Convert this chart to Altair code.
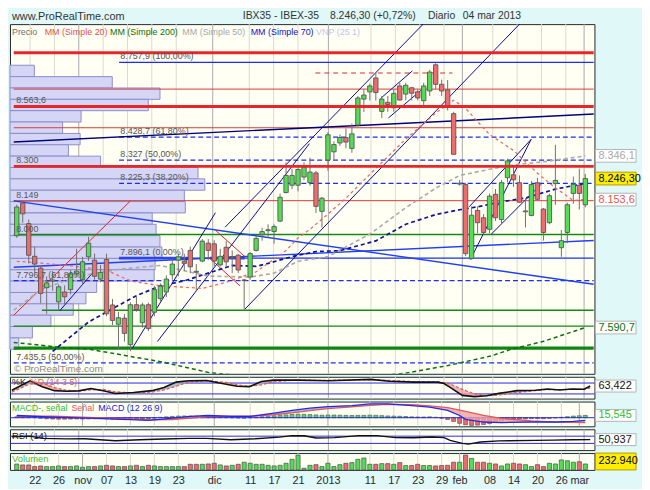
import altair as alt
import pandas as pd

FONT = "Liberation Sans"

# ------------------------------------------------------------------
# DATA  (trading-day index: 0 = 22 oct 2012 ... 92 = 04 mar 2013)
# ------------------------------------------------------------------
day_index = list(range(-3, 93))

opens = [
    7995, 8138, 8048, 7904, 7852, 7766, 7795, 7704, 7747, 7758, 7827, 7801, 7902,
    7887, 7804, 7890, 7690, 7605, 7632, 7515, 7691, 7612, 7691,
    7658, 7718, 7747, 7823, 7887, 7883, 7930, 7838, 7883, 7962,
    7959, 7866, 7944, 7900, 7909, 7798, 7813, 7930, 7999, 8017,
    8013, 8059, 8185, 8217, 8217, 8253, 8228, 8271, 8102, 8328,
    8364, 8403, 8427, 8379, 8482, 8596, 8628, 8689, 8542, 8582,
    8558, 8654, 8618, 8646, 8628, 8589, 8632, 8747, 8661, 8637,
    8532, 8222, 8220, 7894, 8106, 8074, 8023, 8177, 8066, 8250,
    8263, 8228, 8100, 8084, 8228, 8112, 8052, 8224, 7942, 8009,
    8181, 8217, 8131,
]
highs = [
    8131, 8145, 8066, 7947, 7866, 7816, 7839, 7780, 7776, 7844, 7937, 7902, 7990,
    7916, 7866, 7916, 7716, 7660, 7650, 7701, 7730, 7700, 7700,
    7774, 7785, 7820, 7890, 7915, 7915, 7947, 7870, 7980, 7980,
    7975, 7937, 7971, 7930, 7915, 7805, 7923, 7995, 8030, 8045,
    8045, 8180, 8317, 8290, 8300, 8317, 8338, 8280, 8165, 8450,
    8410, 8440, 8467, 8489, 8610, 8639, 8665, 8711, 8610, 8610,
    8640, 8668, 8668, 8650, 8640, 8668, 8725, 8754, 8682, 8680,
    8540, 8240, 8227, 8124, 8124, 8090, 8180, 8200, 8240, 8334,
    8300, 8260, 8160, 8235, 8250, 8117, 8180, 8395, 8020, 8140,
    8255, 8290, 8267,
]
lows = [
    7985, 8052, 7873, 7830, 7698, 7651, 7753, 7667, 7694, 7737, 7820, 7780, 7884,
    7801, 7790, 7640, 7601, 7495, 7529, 7486, 7660, 7590, 7575,
    7640, 7705, 7725, 7801, 7817, 7840, 7830, 7751, 7878, 7887,
    7859, 7860, 7860, 7830, 7830, 7672, 7801, 7925, 7973, 7990,
    7960, 8055, 8180, 8200, 8190, 8240, 8215, 8095, 8031, 8281,
    8324, 8390, 8380, 8360, 8475, 8539, 8590, 8589, 8513, 8540,
    8540, 8590, 8590, 8590, 8590, 8565, 8610, 8640, 8610, 8546,
    8353, 8215, 7905, 7890, 8005, 8000, 8005, 8060, 8050, 8230,
    8210, 8140, 8031, 8080, 8150, 7973, 8045, 8131, 7902, 7962,
    8135, 8110, 8120,
]
closes = [
    8121, 8091, 7909, 7870, 7741, 7787, 7800, 7770, 7726, 7827, 7839, 7880, 7962,
    7816, 7833, 7651, 7622, 7634, 7565, 7691, 7670, 7690, 7586,
    7758, 7773, 7804, 7870, 7902, 7873, 7858, 7834, 7971, 7930,
    7883, 7904, 7880, 7903, 7844, 7800, 7916, 7983, 8013, 8021,
    8035, 8164, 8260, 8260, 8286, 8296, 8275, 8124, 8160, 8439,
    8396, 8427, 8407, 8443, 8601, 8614, 8654, 8625, 8596, 8572,
    8621, 8592, 8657, 8622, 8601, 8654, 8715, 8661, 8632, 8561,
    8353, 8226, 7916, 8085, 8052, 8009, 8169, 8074, 8228, 8324,
    8241, 8142, 8104, 8220, 8155, 8009, 8171, 8238, 7973, 8131,
    8221, 8181, 8246.3,
]
volumes = [
    230000, 195000, 195000, 130000, 155000, 130000, 130000, 155000, 130000, 130000, 155000, 105000, 130000,
    130000, 155000, 180000, 155000, 130000, 130000, 155000, 180000, 130000, 180000,
    155000, 130000, 130000, 130000, 130000, 130000, 220000, 220000, 220000, 233000,
    260000, 195000, 155000, 180000, 220000, 300000, 260000, 220000, 220000, 180000,
    155000, 180000, 260000, 415000, 580000, 65000, 180000, 205000, 130000, 260000,
    130000, 205000, 260000, 285000, 415000, 465000, 220000, 220000, 245000, 245000,
    220000, 285000, 170000, 170000, 220000, 170000, 170000, 155000, 170000, 180000,
    300000, 300000, 580000, 450000, 300000, 300000, 260000, 233000, 155000, 233000,
    260000, 233000, 205000, 130000, 205000, 130000, 260000, 233000, 390000, 360000,
    300000, 320000, 232940,
]
macd_hist = [
    6, 7, 5, 3,
    -4, -7, -9, -10, -10, -9, -8, -9, -8, -7, -6, -8, -10, -12, -13, -12, -10, -8, -6, -3,
    3, 6, 9, 11, 12, 11, 10, 9, 7, 5, 3, 2, 0, -2, -3,
    0, 4, 7, 10, 13, 16, 19, 22, 24, 23, 21, 19, 17, 18, 18, 17, 16, 15, 16, 16, 17, 16,
    14, 12, 11, 10, 8, 6, 5, 5, 6, 3,
    -4, -12, -25, -38, -48, -52, -50, -46, -40, -32, -24, -15, -10, -9, -8, -6, -6, -7,
    -4, -1, 3, 7, 11, 13, 15.5,
]

# moving averages (sampled along the curves)
ma20_x = [-3, 0, 5, 10, 12, 16, 21, 25, 28, 32, 37, 40, 42, 44, 46, 49, 52, 56, 62, 67, 70, 72, 76, 80, 84, 87, 90, 92]
ma20_v = [7882, 7877, 7865, 7850, 7843, 7796, 7774, 7768, 7763, 7790, 7836, 7892, 7930, 7985, 8023, 8090, 8160,
          8265, 8420, 8535, 8591, 8555, 8440, 8370, 8270, 8205, 8150, 8154]
ma50_x = [-3.5, 1, 7, 14, 21, 29, 36, 40, 44, 49, 56, 62, 67, 71, 79, 85, 92]
ma50_v = [7667, 7757, 7815, 7847, 7864, 7817, 7813, 7830, 7882, 7903, 8002, 8118, 8204, 8260, 8303, 8320, 8346.1]
ma70_x = [3, 9, 14, 17, 21, 25, 29, 33, 37, 39, 43, 47, 51, 57, 62, 67, 71, 74, 78, 82, 87, 92]
ma70_v = [7486, 7615, 7688, 7731, 7774, 7796, 7830, 7864, 7860, 7873, 7903, 7925, 7929, 7972, 8045, 8088, 8109,
          8122, 8144, 8161, 8200, 8225]
ma200_x = [-3.5, 4.6, 9.2, 21.3, 29.2, 45, 61.5, 68.8, 76.2, 79.6, 84.9, 92]
ma200_v = [7525, 7503, 7495, 7439, 7392, 7350, 7388, 7422, 7465, 7495, 7529, 7590.7]

# volume-by-price profile (VNP 25 1): bins of 50 points, relative volume (% of max)
vp_bin_top = [8745 - 50 * k for k in range(25)]
vp_rel = [12.5, 52.5, 77, 71, 36.5, 27, 36, 30, 46.5, 96.5, 100, 89.5, 90, 73, 75, 77, 78, 74.5, 74, 44.5,
          39, 32.5, 21, 11.5, 4.5]

# stochastic %K %D (14 3 5)
sto_x = [-3, 0, 2, 4, 6, 8, 10, 12, 14, 17, 20, 22, 24, 26, 29, 32, 34, 36, 38, 40, 44, 49, 56, 59, 63, 67,
         68, 69, 71, 73, 75, 77, 80, 83, 85, 87, 89, 91, 92]
sto_k = [40, 92, 60, 38, 35, 37, 50, 38, 22, 28, 38, 55, 85, 93, 94, 75, 62, 60, 88, 96, 96, 93, 100, 90, 85,
         85, 77, 56, 12, 5, 10, 23, 38, 40, 47, 42, 47, 46, 63.422]
sto_d = [30, 75, 80, 55, 40, 36, 42, 45, 32, 25, 30, 42, 62, 85, 93, 85, 70, 62, 70, 88, 96, 95, 98, 95, 88,
         85, 83, 75, 45, 20, 10, 14, 28, 38, 44, 44, 45, 46, 52]

# MACD (12 26 9)
macd_x = [-3, 3, 9, 16, 19, 23, 26, 29, 33, 36, 40, 43, 46, 49, 53, 56, 59, 63, 66, 69, 71, 72, 75, 78, 83,
          87, 90, 92]
macd_v = [15, 4, -3, -13, -18, -3, 9, 15, 9, 9, 31, 49, 64, 75, 82, 93, 93, 82, 71, 49, 15, -11, -29, -33,
          -29, -29, -25, -18]
signal_v = [10, 10, 2, -8, -14, -12, -2, 8, 11, 10, 20, 32, 48, 62, 73, 83, 90, 88, 80, 68, 52, 42, 15, -5,
            -22, -30, -32, -33]

# RSI (14)
rsi_x = [-3, 0, 2, 6, 9, 14, 18, 22, 26, 29, 33, 37, 41, 43, 45, 47, 50, 54, 57, 60, 63, 66, 68, 69, 71,
         72, 74, 77, 83, 86, 89, 92]
rsi_v = [66, 70, 58, 55, 56, 45, 50, 54, 58, 58, 50, 56, 65, 73, 72, 60, 62, 73, 73, 62, 61, 65, 62, 47, 30,
         26, 38, 44, 47, 48, 50, 50.937]

# horizontal levels
thick_red_levels = [8800, 8563.6, 8300]
thin_red_levels = [8640, 8470, 8149]
green_levels = [8000, 7597]
green_partial_level = [7667]
green_partial_start = [1.2]
green_thick_levels = [7500]
fib_solid_levels = [8757.9, 7896.1]
fib_dashed_levels = [8428.7, 8327, 8225.3]
fib_start = 14.1
blue_dashed_levels = [7796.7, 7435.5]
bold_segments = [(14.1, 26.0, 7896.1), (29.3, 35.1, 7896.1)]

# trend lines (start index, start price, end index, end price)
navy_lines = [
    (4.2, 7665, 10.1, 7844), (16.3, 7499, 30.2, 8096), (20.5, 7529, 45.9, 8400),
    (31.8, 8032, 65.2, 8934), (35.1, 7671, 81.3, 8934), (57.8, 8599, 63.1, 8720),
    (59.1, 8513, 64.7, 8638), (72.8, 7890, 82.95, 8419), (72.6, 8122, 82.95, 8419),
    (76.3, 8002, 84.6, 8221),
]
red_lines = [(-3.5, 7645, 16.0, 8148), (30.2, 8019, 35.1, 7903), (29.1, 7899, 34.3, 7774)]
red_dashed_lines = [(46.9, 8711, 69.8, 8711)]
blue_lines = [(-3.5, 8148, 93.4, 7781), (-3.5, 7856, 93.4, 7974)]
navy_long_lines = [(-3.5, 8407, 93.4, 8530)]

left_label_text = ["8.563,6", "8.300", "8.149", "8.000", "7.796,7 (61,80%)", "7.435,5 (50,00%)"]
left_label_price = [8563.6, 8300, 8149, 8000, 7796.7, 7435.5]
fib_label_text = ["8.757,9 (100,00%)", "8.428,7 (61,80%)", "8.327 (50,00%)", "8.225,3 (38,20%)", "7.896,1 (0,00%)"]
fib_label_price = [8757.9, 8428.7, 8327, 8225.3, 7896.1]

tick_index = [0, 4, 8, 12, 16, 20, 24, 30, 36, 40, 44, 49, 56, 60, 64, 68, 71, 76, 80, 84, 88, 91]
tick_label = ["22", "26", "nov", "07", "13", "19", "23", "dic", "11", "17", "21", "2013", "11", "17", "23",
              "29", "feb", "08", "14", "20", "26", "mar"]
month_ticks = [8, 30, 49, 71, 91]

# ------------------------------------------------------------------
# LAYOUT / HELPERS
# ------------------------------------------------------------------
W = 590
H_MAIN, H_STO, H_MACD, H_RSI, H_VOL = 353, 22, 25, 21, 17
XDOM = [-3.3, 92.7]
YDOM = [7387, 8926]
STO_DOM = [-5.6, 114.4]
MACD_DOM = [-58, 109]
RSI_DOM = [-7, 108]
VOL_DOM = [0, 660000]
BOX_L, BOX_R = W + 1, W + 42

GREEN = "#52dd52"
RED = "#ee6c6c"
BLUE = "#2626e8"


def xs(field, axis=None):
    return alt.X(f"{field}:Q", scale=alt.Scale(domain=XDOM, nice=False, zero=False), axis=axis)


def ys(field, dom, axis=None):
    return alt.Y(f"{field}:Q", scale=alt.Scale(domain=dom, nice=False, zero=False), axis=axis)


def txt(s, x, y, color, size=9.5, baseline="middle", align="left"):
    return alt.Chart(pd.DataFrame({"t": [s]})).mark_text(
        align=align, baseline=baseline, fontSize=size, color=color, font=FONT
    ).encode(x=alt.value(x), y=alt.value(y), text="t:N")


def value_box(value, label, dom, half, tcolor, fill, stroke):
    d = pd.DataFrame({"v": [value], "t": [label]})
    base = alt.Chart(d).transform_calculate(lo=f"datum.v - {half}", hi=f"datum.v + {half}")
    rect = base.mark_rect(fill=fill, stroke=stroke, strokeWidth=1).encode(
        x=alt.value(BOX_L), x2=alt.value(BOX_R), y=ys("lo", dom), y2="hi:Q")
    t = base.mark_text(align="left", baseline="middle", fontSize=11, color=tcolor, font=FONT).encode(
        x=alt.value(BOX_L + 3), y=ys("v", dom), text="t:N")
    return [rect, t]


grid_df = pd.DataFrame({"i": tick_index,
                        "col": ["#a9a9a9" if t in month_ticks else "#dadacb" for t in tick_index]})


def grid_layer(axis=None):
    return alt.Chart(grid_df).mark_rule(strokeWidth=1).encode(
        x=xs("i", axis), color=alt.Color("col:N", scale=None))


def levels(vals, color, width, start=None, end=None, dash=None):
    d = pd.DataFrame({"p": vals})
    d["a"] = -3.5 if start is None else start
    d["b"] = 93.4 if end is None else end
    kw = dict(color=color, strokeWidth=width, clip=True)
    if dash:
        kw["strokeDash"] = dash
    return alt.Chart(d).mark_rule(**kw).encode(x=xs("a"), x2="b:Q", y=ys("p", YDOM))


def segments(lst, color, width, dash=None):
    d = pd.DataFrame(lst, columns=["i1", "p1", "i2", "p2"])
    kw = dict(color=color, strokeWidth=width, clip=True)
    if dash:
        kw["strokeDash"] = dash
    return alt.Chart(d).mark_rule(**kw).encode(x=xs("i1"), x2="i2:Q", y=ys("p1", YDOM), y2="p2:Q")


def ma_line(xv, vv, color, width, dash):
    d = pd.DataFrame({"i": xv, "v": vv})
    return alt.Chart(d).mark_line(color=color, strokeWidth=width, strokeDash=dash, clip=True).encode(
        x=xs("i"), y=ys("v", YDOM))


df = pd.DataFrame({"i": day_index, "o": opens, "h": highs, "l": lows, "c": closes,
                   "vol": volumes, "hist": macd_hist})

# ------------------------------------------------------------------
# MAIN PRICE PANEL
# ------------------------------------------------------------------
main_axis = alt.Axis(orient="right", values=list(range(7400, 8901, 100)),
                     labelExpr="replace(format(datum.value, ','), ',', '.')",
                     grid=True, gridColor="#e6e6d8", ticks=False, domain=False, labelPadding=6,
                     labelFontSize=11, labelColor="#1e1e1e", labelFont=FONT, title=None)

vp_df = pd.DataFrame({"hi": vp_bin_top, "rel": vp_rel})
vp_df["lo"] = vp_df["hi"] - 50
profile = alt.Chart(vp_df).transform_calculate(zero="0").mark_rect(
    fill="#d5d5f6", stroke="#8d8dca", strokeWidth=1).encode(
    x=alt.X("zero:Q", scale=alt.Scale(domain=[0, 300], nice=False), axis=None),
    x2="rel:Q", y=ys("lo", YDOM), y2="hi:Q")

wick = alt.Chart(df).mark_rule(color="#707070", strokeWidth=1, clip=True).encode(
    x=xs("i"), y=ys("l", YDOM, main_axis), y2="h:Q")
body = alt.Chart(df).mark_bar(size=4.4, stroke="#575757", strokeWidth=0.9, clip=True).encode(
    x=xs("i"), y=ys("o", YDOM), y2="c:Q",
    fill=alt.condition("datum.c >= datum.o", alt.value(GREEN), alt.value(RED)))

left_lbl = alt.Chart(pd.DataFrame({"t": left_label_text, "p": left_label_price, "i": -3.1})).mark_text(
    align="left", baseline="bottom", dy=-1, fontSize=9, color="#555555", font=FONT).encode(
    x=xs("i"), y=ys("p", YDOM), text="t:N")
fib_lbl = alt.Chart(pd.DataFrame({"t": fib_label_text, "p": fib_label_price, "i": fib_start + 0.2})).mark_text(
    align="left", baseline="bottom", dy=-1, fontSize=9, color="#555555", font=FONT).encode(
    x=xs("i"), y=ys("p", YDOM), text="t:N")

bold_df = pd.DataFrame(bold_segments, columns=["a", "b", "p"])
bold = alt.Chart(bold_df).mark_rule(color="#2a46f2", strokeWidth=2.6).encode(
    x=xs("a"), x2="b:Q", y=ys("p", YDOM))

inner_layers = [
    levels(thin_red_levels, "#d83a3a", 1),
    levels(green_levels, "#138a13", 1.4),
    levels(green_partial_level, "#138a13", 1.4, start=green_partial_start[0]),
    levels(green_thick_levels, "#0f860f", 3.2),
    levels(fib_solid_levels, "#1a2ef0", 1.3, start=fib_start),
    levels(fib_dashed_levels, "#1a2ef0", 1.3, start=fib_start, dash=[5, 3]),
    levels(blue_dashed_levels, "#1a2ef0", 1.3, dash=[5, 3]),
    bold,
    segments(blue_lines, "#2040f0", 1.4),
    segments(navy_long_lines, "#00007c", 1.5),
    segments(red_lines, "#e82020", 1),
    segments(red_dashed_lines, "#e02828", 1.2, dash=[5, 4]),
    segments(navy_lines, "#0a0a90", 1),
    ma_line(ma200_x, ma200_v, "#0b6e0b", 1.5, [4, 3]),
    ma_line(ma50_x, ma50_v, "#a9a9a9", 1.6, [4, 3]),
    ma_line(ma70_x, ma70_v, "#10109c", 1.7, [4, 3]),
    ma_line(ma20_x, ma20_v, "#e86a6a", 1.3, [3, 3]),
    wick, body,
    levels(thick_red_levels, "#e8262a", 3),
    left_lbl, fib_lbl,
]
inner_layers += value_box(8346.1, "8.346,1", YDOM, 28, "#a8a8a8", "#ffffff", "#b4b4b4")
inner_layers += value_box(8246.3, "8.246,30", YDOM, 28, "#000000", "#ffee00", "#b89a00")
inner_layers += value_box(8153.6, "8.153,6", YDOM, 28, "#e05858", "#ffffff", "#b4b4b4")
inner_layers += value_box(7590.7, "7.590,7", YDOM, 28, "#0b6e0b", "#ffffff", "#b4b4b4")

# legend row + header + watermark
inner_layers += [
    txt("Precio", 2, 8, "#707070", size=9),
    txt("MM (Simple 20)", 35, 8, "#e85050", size=9),
    txt("MM (Simple 200)", 101, 8, "#087008", size=9),
    txt("MM (Simple 50)", 174, 8, "#a8a8a8", size=9),
    txt("MM (Simple 70)", 243, 8, "#1010c0", size=9),
    txt("VNP (25 1)", 309, 8, "#c4c4ee", size=9),
    txt("\u00a9 ProRealTime.com", 4, H_MAIN - 5, "#8a8a8a", size=10),
    txt("www.ProRealTime.com", 2, -13, "#333333", size=11, baseline="top"),
    txt("IBX35 - IBEX-35", 235, -13, "#333333", size=10.5, baseline="top"),
    txt("8.246,30 (+0,72%)", 323, -13, "#333333", size=10.5, baseline="top"),
    txt("Diario", 422, -13, "#333333", size=10.5, baseline="top"),
    txt("04 mar 2013", 457, -13, "#333333", size=10.5, baseline="top"),
]

main = alt.layer(grid_layer(), profile, alt.layer(*inner_layers)).resolve_scale(
    x="independent").properties(width=W, height=H_MAIN)

# ------------------------------------------------------------------
# STOCHASTIC
# ------------------------------------------------------------------
sto_df = pd.DataFrame({"i": sto_x, "k": sto_k, "d": sto_d})
sto_base = alt.Chart(sto_df).transform_calculate(up="max(datum.k, datum.d)", dn="min(datum.k, datum.d)")
sto_layers = [
    grid_layer(),
    alt.Chart(pd.DataFrame({"lv": [80, 20]})).mark_rule(color=BLUE, strokeWidth=1).encode(y=ys("lv", STO_DOM)),
    sto_base.mark_area(color="#f0a2a2", opacity=0.8).encode(x=xs("i"), y=ys("k", STO_DOM), y2="up:Q"),
    sto_base.mark_area(color="#a3adc3", opacity=0.85).encode(x=xs("i"), y=ys("k", STO_DOM), y2="dn:Q"),
    alt.Chart(sto_df).mark_line(color="#e05858", strokeWidth=1.2, strokeDash=[3, 2]).encode(
        x=xs("i"), y=ys("d", STO_DOM)),
    alt.Chart(sto_df).mark_line(color="#111111", strokeWidth=1.6).encode(x=xs("i"), y=ys("k", STO_DOM)),
    txt("%K", 2, 5, "#111111", size=9),
    txt("%D (14 3 5)", 20, 5, "#e06060", size=9),
] + value_box(63.422, "63,422", STO_DOM, 33, "#111111", "#ffffff", "#b4b4b4")
sto = alt.layer(*sto_layers).properties(width=W, height=H_STO)

# ------------------------------------------------------------------
# MACD
# ------------------------------------------------------------------
macd_df = pd.DataFrame({"i": macd_x, "m": macd_v, "s": signal_v})
macd_base = alt.Chart(macd_df).transform_calculate(up="max(datum.m, datum.s)", dn="min(datum.m, datum.s)")
macd_layers = [
    grid_layer(),
    alt.Chart(df).mark_bar(size=4, stroke="#4a4a4a", strokeWidth=0.6).encode(
        x=xs("i"), y=ys("hist", MACD_DOM), y2=alt.datum(0),
        fill=alt.condition("datum.hist >= 0", alt.value(GREEN), alt.value(RED))),
    alt.Chart(pd.DataFrame({"lv": [0]})).mark_rule(color=BLUE, strokeWidth=1).encode(y=ys("lv", MACD_DOM)),
    macd_base.mark_area(color="#f0a2a2", opacity=0.8).encode(x=xs("i"), y=ys("m", MACD_DOM), y2="up:Q"),
    macd_base.mark_area(color="#a3adc3", opacity=0.85).encode(x=xs("i"), y=ys("m", MACD_DOM), y2="dn:Q"),
    alt.Chart(macd_df).mark_line(color="#e05858", strokeWidth=1.3).encode(x=xs("i"), y=ys("s", MACD_DOM)),
    alt.Chart(macd_df).mark_line(color=BLUE, strokeWidth=1.3).encode(x=xs("i"), y=ys("m", MACD_DOM)),
    txt("MACD-, se\u00f1al", 2, 7, "#2ebd2e", size=9),
    txt("Se\u00f1al", 62, 7, "#e05858", size=9),
    txt("MACD (12 26 9)", 89, 7, "#2020e0", size=9),
] + value_box(15.545, "15,545", MACD_DOM, 40, "#2ebd2e", "#ffffff", "#b4b4b4")
macd = alt.layer(*macd_layers).properties(width=W, height=H_MACD)

# ------------------------------------------------------------------
# RSI
# ------------------------------------------------------------------
rsi_df = pd.DataFrame({"i": rsi_x, "r": rsi_v})
rsi_layers = [
    grid_layer(),
    alt.Chart(pd.DataFrame({"lv": [70, 30]})).mark_rule(color=BLUE, strokeWidth=1).encode(y=ys("lv", RSI_DOM)),
    alt.Chart(rsi_df).mark_line(color="#111111", strokeWidth=1.4).encode(x=xs("i"), y=ys("r", RSI_DOM)),
    txt("RSI (14)", 2, 7, "#111111"),
] + value_box(50.937, "50,937", RSI_DOM, 33, "#111111", "#ffffff", "#b4b4b4")
rsi = alt.layer(*rsi_layers).properties(width=W, height=H_RSI)

# ------------------------------------------------------------------
# VOLUME
# ------------------------------------------------------------------
label_expr = ("[" + ",".join(f"'{t}'" for t in tick_label) + "][indexof(["
              + ",".join(str(t) for t in tick_index) + "], datum.value)]")
x_axis = alt.Axis(values=tick_index, labelExpr=label_expr, ticks=False, domain=False, grid=False,
                  labelPadding=5, labelFontSize=11, labelColor="#2a2a2a", labelFont=FONT, title=None,
                  labelOverlap=False, labelFlush=False, labelBound=False, orient="bottom")
vol_layers = [
    grid_layer(x_axis),
    alt.Chart(df).mark_bar(size=4.2, stroke="#4a4a4a", strokeWidth=0.7).encode(
        x=xs("i", x_axis), y=ys("vol", VOL_DOM), y2=alt.datum(0),
        fill=alt.condition("datum.c >= datum.o", alt.value(GREEN), alt.value(RED))),
    txt("Volumen", 2, 6, "#3cbf3c"),
    alt.Chart(pd.DataFrame({"t": ["232.940"]})).mark_rect(fill="#ffee00", stroke="#b89a00").encode(
        x=alt.value(BOX_L), x2=alt.value(BOX_R), y=alt.value(0), y2=alt.value(H_VOL)),
    txt("232.940", BOX_L + 3, H_VOL / 2, "#000000", size=11),
]
vol = alt.layer(*vol_layers).properties(width=W, height=H_VOL)

chart = alt.vconcat(main, sto, macd, rsi, vol, spacing=3, bounds="flush").properties(
    padding={"left": 0, "top": 0, "right": 0, "bottom": 0}
).configure(font=FONT, background="#e0f8f8").configure_view(
    fill="#fffff4", stroke="#262626", strokeWidth=1)

chart.save("out.html", embed_options={"renderer": "svg", "actions": False})
